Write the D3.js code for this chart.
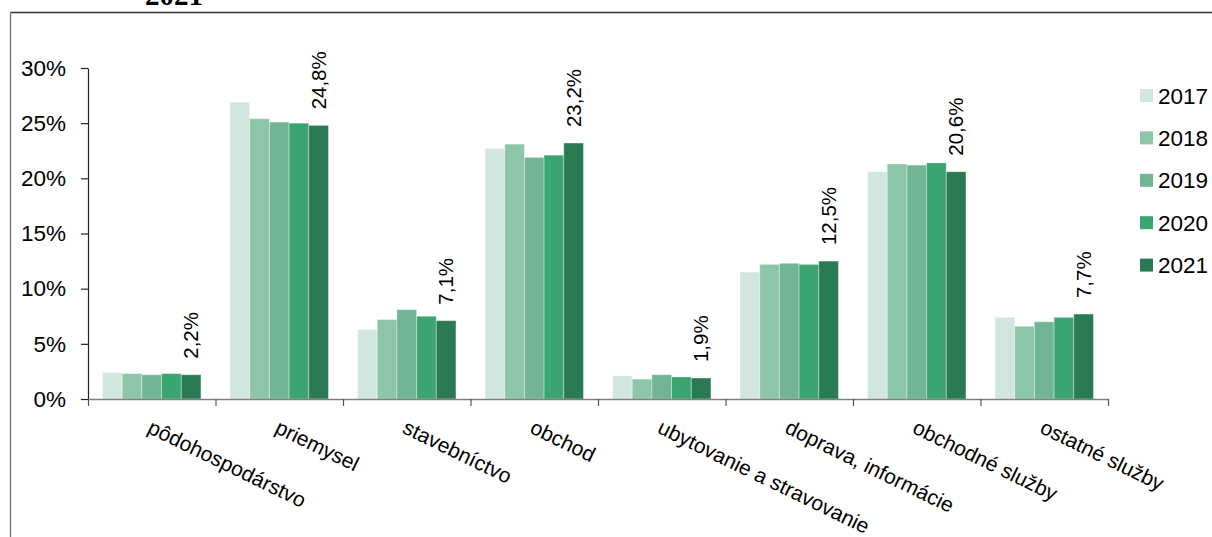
<!DOCTYPE html>
<html>
<head>
<meta charset="utf-8">
<script src="https://cdn.jsdelivr.net/npm/d3@7"></script>
<style>
  html, body { margin: 0; padding: 0; background: #fff; }
  svg { display: block; font-family: "Liberation Sans", Arial, sans-serif; }
  .title { font-family: "Liberation Serif", "Times New Roman", serif; font-weight: bold; }
</style>
</head>
<body>
<svg id="chart" width="1212" height="537"></svg>
<script>
// ---- data ----
const categories = ["pôdohospodárstvo", "priemysel", "stavebníctvo", "obchod",
  "ubytovanie a stravovanie", "doprava, informácie", "obchodné služby", "ostatné služby"];
const years = ["2017", "2018", "2019", "2020", "2021"];
const v2017 = [2.4, 26.9, 6.3, 22.7, 2.1, 11.5, 20.6, 7.4];
const v2018 = [2.3, 25.4, 7.2, 23.1, 1.8, 12.2, 21.3, 6.6];
const v2019 = [2.2, 25.1, 8.1, 21.9, 2.2, 12.3, 21.2, 7.0];
const v2020 = [2.3, 25.0, 7.5, 22.1, 2.0, 12.2, 21.4, 7.4];
const v2021 = [2.2, 24.8, 7.1, 23.2, 1.9, 12.5, 20.6, 7.7];
const yTicks = [0, 5, 10, 15, 20, 25, 30];
const labelValues = ["2,2%", "24,8%", "7,1%", "23,2%", "1,9%", "12,5%", "20,6%", "7,7%"];
const title = "2021";

const series = [v2017, v2018, v2019, v2020, v2021];
const colors = ["#d1e6dc", "#8dc5a8", "#72b594", "#3ba56f", "#2a7a53"];

const svg = d3.select("#chart");

// frame
svg.append("line").attr("x1", 10.5).attr("x2", 1212).attr("y1", 12.5).attr("y2", 12.5)
  .attr("stroke", "#333").attr("stroke-width", 1.4);
svg.append("line").attr("x1", 10.5).attr("x2", 10.5).attr("y1", 12.5).attr("y2", 537)
  .attr("stroke", "#777").attr("stroke-width", 1.4);

// title (cut off at top, as in the reference)
svg.append("text").attr("class", "title").attr("x", 174).attr("y", 5).attr("text-anchor", "middle")
  .style("font-size", "29px").text(title);

const x0 = d3.scaleBand().domain(categories).range([88, 1108]).paddingInner(0).paddingOuter(0);
const x1 = d3.scaleBand().domain(years).range([0, x0.bandwidth()]).paddingInner(0).paddingOuter(0.74);
const y = d3.scaleLinear().domain([0, 30]).range([399, 68]);

// bars
const groups = svg.append("g").selectAll("g").data(categories).join("g")
  .attr("transform", c => `translate(${x0(c)},0)`);
groups.selectAll("rect")
  .data((c, i) => years.map((yr, j) => ({ yr, j, v: series[j][i] })))
  .join("rect")
  .attr("x", d => x1(d.yr))
  .attr("width", x1.bandwidth())
  .attr("y", d => y(d.v))
  .attr("height", d => y(0) - y(d.v))
  .attr("fill", d => colors[d.j])
  .attr("stroke", "#ffffff").attr("stroke-opacity", 0.35).attr("stroke-width", 1);

// value labels above 2021 bars
groups.append("text")
  .attr("transform", (c, i) => `translate(${x1("2021") + x1.bandwidth() / 2},${y(v2021[i]) - 16}) rotate(-90)`)
  .attr("dy", "0.36em")
  .attr("font-size", 20.5).attr("fill", "#000")
  .text((c, i) => labelValues[i]);

// y axis
const yAxis = svg.append("g").attr("transform", "translate(88,0)")
  .call(d3.axisLeft(y).tickValues(yTicks).tickFormat(d => d + "%").tickSize(7).tickSizeOuter(0).tickPadding(15));
yAxis.select(".domain").attr("stroke", "#222").attr("stroke-width", 1.2);
yAxis.selectAll(".tick line").attr("stroke", "#222").attr("stroke-width", 1.2);
yAxis.selectAll(".tick text").attr("font-size", 22.5).attr("fill", "#000")
  .attr("font-family", "'Liberation Sans', Arial, sans-serif");

// x axis with ticks at group boundaries
const xb = d3.scaleLinear().domain([0, categories.length]).range([88, 1108]);
const xAxis = svg.append("g").attr("transform", "translate(0,399)")
  .call(d3.axisBottom(xb).tickValues(d3.range(0, categories.length + 1)).tickFormat("").tickSize(7).tickSizeOuter(0));
xAxis.select(".domain").attr("stroke", "#808080").attr("stroke-width", 1.4);
xAxis.selectAll(".tick line").attr("stroke", "#555").attr("stroke-width", 1.2);

// category labels
svg.append("g").selectAll("text").data(categories).join("text")
  .attr("transform", c => `translate(${x0(c) + x0.bandwidth() / 2},421) rotate(26)`)
  .attr("dy", "0.6em")
  .attr("font-size", 21).attr("fill", "#000")
  .text(c => c);

// legend
const legend = svg.append("g").selectAll("g").data(years).join("g")
  .attr("transform", (d, i) => `translate(1140,${89 + i * 42.4})`);
legend.append("rect").attr("width", 13).attr("height", 13).attr("fill", (d, i) => colors[i]);
legend.append("text").attr("x", 18).attr("y", 6.5).attr("dy", "0.36em")
  .attr("font-size", 22.5).attr("fill", "#000").text(d => d);
</script>
</body>
</html>
